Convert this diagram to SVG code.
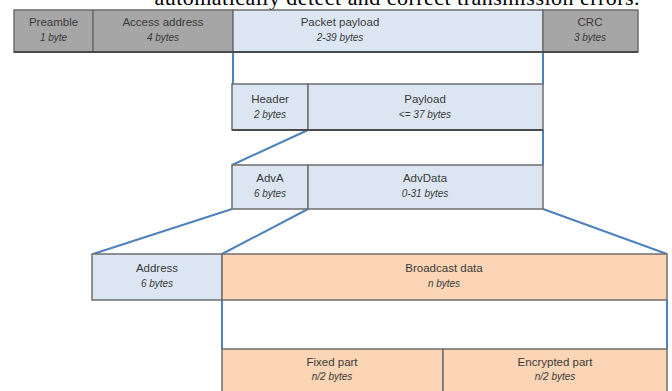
<svg xmlns="http://www.w3.org/2000/svg" width="672" height="391" viewBox="0 0 672 391">
<style>
.gray{fill:#a6a6a6;stroke:#6e6e6e;stroke-width:1.5}
.blue{fill:#dce6f2;stroke:#6e6e6e;stroke-width:1.5}
.peach{fill:#fbd5b5;stroke:#6e6e6e;stroke-width:1.5}
.lbl{font-family:"Liberation Sans",Arial,sans-serif;font-size:11.5px;fill:#3a3a3a;text-anchor:middle}
.sub{font-family:"Liberation Sans",Arial,sans-serif;font-size:10px;font-style:italic;fill:#3a3a3a;text-anchor:middle}
.conn{stroke:#4f81bd;stroke-width:2;fill:none}
.shadow{stroke:#4a4a4a;stroke-width:2}
</style>
<text x="397" y="5" font-family="Liberation Serif,Times New Roman,serif" font-size="22" text-anchor="middle" textLength="485" fill="#000">automatically detect and correct transmission errors.</text>
<g id="connectors">
<line class="conn" x1="233" y1="52" x2="233" y2="84"/>
<line class="conn" x1="543" y1="52" x2="543" y2="84"/>
<line class="conn" x1="308" y1="130" x2="232" y2="165"/>
<line class="conn" x1="543" y1="130" x2="543" y2="165"/>
<line class="conn" x1="232" y1="209" x2="93" y2="254"/>
<line class="conn" x1="308" y1="209" x2="222" y2="254"/>
<line class="conn" x1="543" y1="209" x2="667" y2="254"/>
<line class="conn" x1="222" y1="300" x2="222" y2="349"/>
<line class="conn" x1="667" y1="300" x2="667" y2="349"/>
</g>
<g id="preamble"><rect class="gray" x="14" y="10" width="79" height="42"/><text class="lbl" x="53.5" y="26">Preamble</text><text class="sub" x="53.5" y="41">1 byte</text></g>
<g id="access-address"><rect class="gray" x="93" y="10" width="140" height="42"/><text class="lbl" x="163" y="26">Access address</text><text class="sub" x="163" y="41">4 bytes</text></g>
<g id="packet-payload"><rect class="blue" x="233" y="10" width="310" height="42"/><text class="lbl" x="340" y="26">Packet payload</text><text class="sub" x="340" y="41">2-39 bytes</text></g>
<g id="crc"><rect class="gray" x="543" y="10" width="95" height="42"/><text class="lbl" x="590" y="26">CRC</text><text class="sub" x="590" y="41">3 bytes</text></g>
<line class="shadow" x1="14" y1="52" x2="638" y2="52"/>
<g id="header"><rect class="blue" x="232" y="84" width="76" height="46"/><text class="lbl" x="270" y="103">Header</text><text class="sub" x="270" y="118">2 bytes</text></g>
<g id="payload"><rect class="blue" x="308" y="84" width="235" height="46"/><text class="lbl" x="425" y="103">Payload</text><text class="sub" x="425" y="118">&lt;= 37 bytes</text></g>
<line class="shadow" x1="232" y1="130" x2="543" y2="130"/>
<g id="adva"><rect class="blue" x="232" y="165" width="76" height="44"/><text class="lbl" x="270" y="182">AdvA</text><text class="sub" x="270" y="197">6 bytes</text></g>
<g id="advdata"><rect class="blue" x="308" y="165" width="235" height="44"/><text class="lbl" x="425" y="182">AdvData</text><text class="sub" x="425" y="197">0-31 bytes</text></g>
<g id="address"><rect class="blue" x="92" y="254" width="130" height="46"/><text class="lbl" x="157" y="272">Address</text><text class="sub" x="157" y="287">6 bytes</text></g>
<g id="broadcast-data"><rect class="peach" x="222" y="254" width="445" height="46"/><text class="lbl" x="444" y="272">Broadcast data</text><text class="sub" x="444" y="287">n bytes</text></g>
<g id="fixed-part"><rect class="peach" x="222" y="349" width="221" height="50"/><text class="lbl" x="332" y="366">Fixed part</text><text class="sub" x="332" y="380">n/2 bytes</text></g>
<g id="encrypted-part"><rect class="peach" x="443" y="349" width="224" height="50"/><text class="lbl" x="555" y="366">Encrypted part</text><text class="sub" x="555" y="380">n/2 bytes</text></g>
</svg>
